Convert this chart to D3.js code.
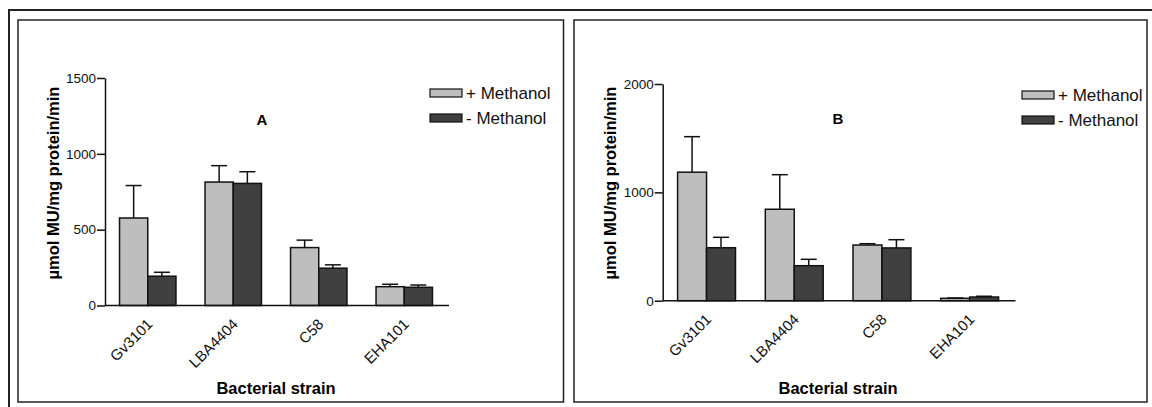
<!DOCTYPE html>
<html>
<head>
<meta charset="utf-8">
<script src="https://cdn.jsdelivr.net/npm/d3@7"></script>
<style>
  html, body { margin: 0; padding: 0; background: #fff; }
  svg { display: block; }
  svg text { font-family: "Liberation Sans", Arial, sans-serif; }
</style>
</head>
<body>
<div id="chart"></div>
<script>
const strains = ["Gv3101", "LBA4404", "C58", "EHA101"];
const seriesNames = ["+ Methanol", "- Methanol"];

// Panel A
const plusA = [577, 814, 382, 124];
const plusErrA = [214, 108, 49, 16];
const minusA = [193, 805, 246, 120];
const minusErrA = [26, 77, 22, 15];
const ticksA = [0, 500, 1000, 1500];

// Panel B
const plusB = [1186, 844, 514, 22];
const plusErrB = [328, 319, 12, 3];
const minusB = [489, 323, 487, 34];
const minusErrB = [96, 59, 76, 7];
const ticksB = [0, 1000, 2000];

const width = 1152;
const height = 407;
const fills = ["#bebebe", "#404040"];

const svg = d3.select("#chart")
  .append("svg")
  .attr("width", width)
  .attr("height", height)
  .attr("viewBox", [0, 0, width, height]);

// outer frame (runs off the picture on right and bottom)
svg.append("rect")
  .attr("x", 9).attr("y", 10)
  .attr("width", 1200).attr("height", 500)
  .attr("fill", "none")
  .attr("stroke", "#222")
  .attr("stroke-width", 2);

function drawPanel(p) {
  // panel frame
  svg.append("rect")
    .attr("x", p.frame[0]).attr("y", p.frame[1])
    .attr("width", p.frame[2] - p.frame[0])
    .attr("height", p.frame[3] - p.frame[1])
    .attr("fill", "none")
    .attr("stroke", "#222")
    .attr("stroke-width", 1.5);

  const x = d3.scaleBand()
    .domain(strains)
    .range(p.xRange)
    .paddingInner(0.34)
    .paddingOuter(0.17);

  const xs = d3.scaleBand()
    .domain([0, 1])
    .range([0, x.bandwidth()]);

  const y = d3.scaleLinear()
    .domain(p.yDomain)
    .range(p.yRange);

  const rows = strains.map((s, i) => [
    { strain: s, k: 0, v: p.plus[i], e: p.plusErr[i] },
    { strain: s, k: 1, v: p.minus[i], e: p.minusErr[i] },
  ]).flat();

  const g = svg.append("g");

  // error bars (drawn under the bars so only the upper part shows)
  const err = g.append("g")
    .attr("stroke", "#111")
    .attr("stroke-width", 1.5);
  rows.forEach((d) => {
    const cx = x(d.strain) + xs(d.k) + xs.bandwidth() / 2;
    err.append("line")
      .attr("x1", cx).attr("x2", cx)
      .attr("y1", y(d.v)).attr("y2", y(d.v + d.e));
    err.append("line")
      .attr("x1", cx - 8).attr("x2", cx + 8)
      .attr("y1", y(d.v + d.e)).attr("y2", y(d.v + d.e));
  });

  // bars
  g.append("g")
    .selectAll("rect")
    .data(rows)
    .join("rect")
    .attr("x", (d) => x(d.strain) + xs(d.k))
    .attr("y", (d) => y(d.v))
    .attr("width", xs.bandwidth())
    .attr("height", (d) => y(0) - y(d.v))
    .attr("fill", (d) => fills[d.k])
    .attr("stroke", "#111")
    .attr("stroke-width", 1.5);

  // Y axis
  g.append("g")
    .attr("transform", `translate(${p.xRange[0]},0)`)
    .call(d3.axisLeft(y).tickValues(p.ticks).tickFormat(d3.format("d"))
      .tickSize(8).tickSizeOuter(0).tickPadding(1))
    .call((a) => a.selectAll("path, line").attr("stroke", "#111").attr("stroke-width", 1.5))
    .selectAll("text")
    .attr("fill", "#111")
    .style("font-family", "'Liberation Sans', Arial, sans-serif")
    .style("font-size", "13.5px");

  // X axis
  g.append("g")
    .attr("transform", `translate(0,${y(0)})`)
    .call(d3.axisBottom(x).tickSize(0).tickSizeOuter(0))
    .call((a) => a.select(".domain")
      .attr("d", `M${p.xRange[0]},0H${p.xRange[1] + 2}`)
      .attr("stroke", "#111").attr("stroke-width", 1.5))
    .selectAll("text")
    .attr("fill", "#111")
    .style("font-family", "'Liberation Sans', Arial, sans-serif")
    .style("font-size", "15px")
    .attr("text-anchor", "end")
    .attr("y", 0)
    .attr("dy", "0.35em")
    .attr("transform", "translate(2,16) rotate(-45)");

  // axis titles
  svg.append("text")
    .attr("x", (p.xRange[0] + p.xRange[1]) / 2)
    .attr("y", 394)
    .attr("text-anchor", "middle")
    .attr("font-weight", "bold")
    .style("font-size", "16.5px")
    .text("Bacterial strain");

  svg.append("text")
    .attr("transform", `translate(${p.xRange[0] - 52},183) rotate(-90)`)
    .attr("text-anchor", "middle")
    .attr("dy", "0.35em")
    .attr("font-weight", "bold")
    .style("font-size", "16.5px")
    .text("µmol MU/mg protein/min");

  // panel letter
  svg.append("text")
    .attr("x", p.letterPos[0])
    .attr("y", p.letterPos[1])
    .attr("text-anchor", "middle")
    .attr("dy", "0.35em")
    .attr("font-weight", "bold")
    .style("font-size", "15px")
    .text(p.letter);

  // legend
  const legend = svg.append("g")
    .attr("transform", `translate(${p.legendPos[0]},${p.legendPos[1]})`);
  seriesNames.forEach((name, i) => {
    legend.append("rect")
      .attr("x", 0).attr("y", i * 25 - 4)
      .attr("width", 32).attr("height", 8)
      .attr("fill", fills[i])
      .attr("stroke", "#111")
      .attr("stroke-width", 1.2);
    legend.append("text")
      .attr("x", 36).attr("y", i * 25)
      .attr("dy", "0.35em")
      .attr("fill", "#111")
      .style("font-size", "17px")
      .text(name);
  });
}

drawPanel({
  frame: [18, 20, 563.5, 402],
  xRange: [105, 447],
  yDomain: [0, 1500],
  yRange: [305.5, 78],
  ticks: ticksA,
  plus: plusA, plusErr: plusErrA,
  minus: minusA, minusErr: minusErrA,
  letter: "A",
  letterPos: [262, 120],
  legendPos: [430, 93],
});

drawPanel({
  frame: [574, 20, 1147, 402],
  xRange: [662.7, 1013.5],
  yDomain: [0, 2000],
  yRange: [300.7, 84],
  ticks: ticksB,
  plus: plusB, plusErr: plusErrB,
  minus: minusB, minusErr: minusErrB,
  letter: "B",
  letterPos: [838, 119],
  legendPos: [1022, 95],
});
</script>
</body>
</html>
